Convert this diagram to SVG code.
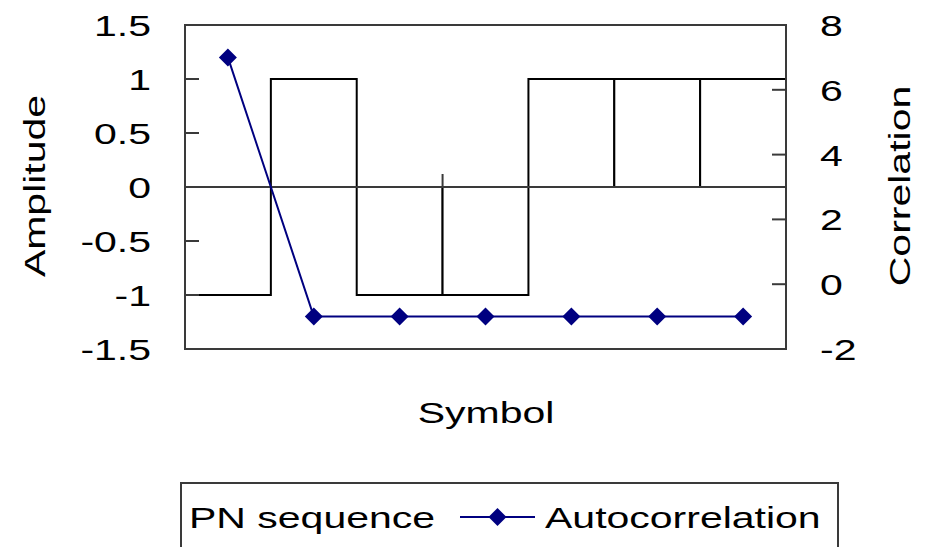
<svg xmlns="http://www.w3.org/2000/svg" width="926" height="547" viewBox="0 0 926 547">
<defs>
<style>
.t{font-family:"Liberation Sans",Arial,sans-serif;font-size:30px;fill:#000}
.col{fill:#fff;stroke:#000;stroke-width:2}
.ax{fill:none;stroke:#3a3a3a;stroke-width:2}
.tk{stroke:#3a3a3a;stroke-width:2}
.ser{fill:none;stroke:#000080;stroke-width:2}
</style>
<path id="dia" d="M0,-9 L9,0 L0,9 L-9,0 Z" fill="#000080"/>
</defs>
<rect width="926" height="547" fill="#fff"/>
<g id="columns">
<rect class="col" x="185" y="187" width="85.86" height="108"/>
<rect class="col" x="270.86" y="79" width="85.86" height="108"/>
<rect class="col" x="356.71" y="187" width="85.86" height="108"/>
<rect class="col" x="442.57" y="187" width="85.86" height="108"/>
<rect class="col" x="528.43" y="79" width="85.86" height="108"/>
<rect class="col" x="614.29" y="79" width="85.86" height="108"/>
<rect class="col" x="700.14" y="79" width="85.86" height="108"/>
</g>
<g id="axes">
<rect class="ax" x="185" y="25" width="601" height="324"/>
<line class="tk" x1="185" y1="187" x2="786" y2="187"/>
<line class="tk" x1="442.57" y1="174" x2="442.57" y2="187"/>
<line class="tk" x1="185" y1="79" x2="199" y2="79"/>
<line class="tk" x1="185" y1="133" x2="199" y2="133"/>
<line class="tk" x1="185" y1="241" x2="199" y2="241"/>
<line class="tk" x1="185" y1="295" x2="199" y2="295"/>
<line class="tk" x1="772" y1="89.8" x2="786" y2="89.8"/>
<line class="tk" x1="772" y1="154.6" x2="786" y2="154.6"/>
<line class="tk" x1="772" y1="219.4" x2="786" y2="219.4"/>
<line class="tk" x1="772" y1="284.2" x2="786" y2="284.2"/>
</g>
<g id="autocorrelation">
<polyline class="ser" points="227.9,57.4 313.8,316.6 399.6,316.6 485.5,316.6 571.4,316.6 657.2,316.6 743.1,316.6"/>
<use href="#dia" x="227.9" y="57.4"/>
<use href="#dia" x="313.8" y="316.6"/>
<use href="#dia" x="399.6" y="316.6"/>
<use href="#dia" x="485.5" y="316.6"/>
<use href="#dia" x="571.4" y="316.6"/>
<use href="#dia" x="657.2" y="316.6"/>
<use href="#dia" x="743.1" y="316.6"/>
</g>
<g id="left-labels" class="t" text-anchor="end">
<text transform="translate(151,36) scale(1.367,1)">1.5</text>
<text transform="translate(151,90) scale(1.367,1)">1</text>
<text transform="translate(151,144) scale(1.367,1)">0.5</text>
<text transform="translate(151,198) scale(1.367,1)">0</text>
<text transform="translate(151,252) scale(1.367,1)">-0.5</text>
<text transform="translate(151,306) scale(1.367,1)">-1</text>
<text transform="translate(151,360) scale(1.367,1)">-1.5</text>
</g>
<g id="right-labels" class="t">
<text transform="translate(820,36) scale(1.367,1)">8</text>
<text transform="translate(820,101) scale(1.367,1)">6</text>
<text transform="translate(820,166) scale(1.367,1)">4</text>
<text transform="translate(820,230) scale(1.367,1)">2</text>
<text transform="translate(820,295) scale(1.367,1)">0</text>
<text transform="translate(820,360) scale(1.367,1)">-2</text>
</g>
<g id="titles" class="t" text-anchor="middle">
<text transform="translate(45,186) rotate(-90) scale(1.367,1)">Amplitude</text>
<text transform="translate(910,186) rotate(-90) scale(1.367,1)">Correlation</text>
<text transform="translate(486,423) scale(1.367,1)">Symbol</text>
</g>
<g id="legend">
<rect x="181" y="483" width="657" height="90" fill="#fff" stroke="#3a3a3a" stroke-width="2"/>
<text class="t" transform="translate(189,528) scale(1.367,1)">PN sequence</text>
<line class="ser" x1="460" y1="517" x2="535" y2="517"/>
<use href="#dia" x="497.5" y="517"/>
<text class="t" transform="translate(545,528) scale(1.367,1)">Autocorrelation</text>
</g>
</svg>
